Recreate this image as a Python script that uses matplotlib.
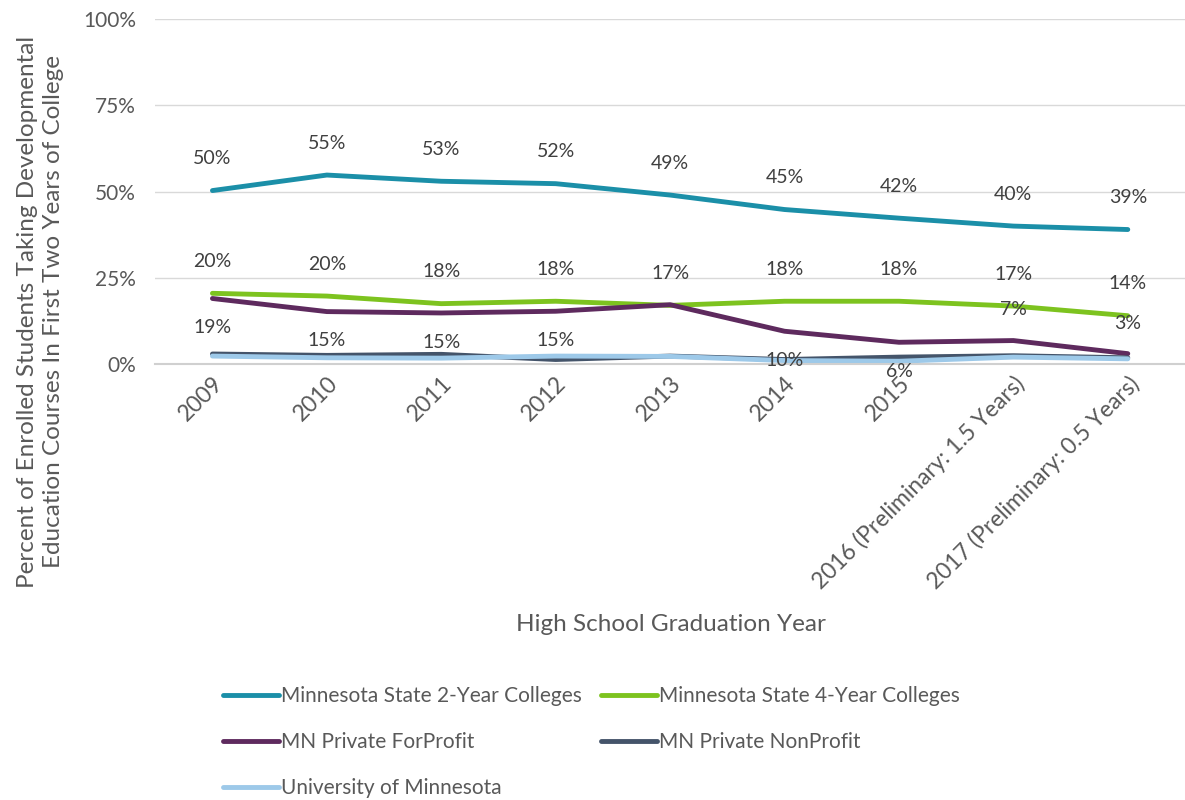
import matplotlib.pyplot as plt

plt.rcParams['font.family'] = ['Lato', 'DejaVu Sans']

years = ["2009", "2010", "2011", "2012", "2013", "2014", "2015",
         "2016 (Preliminary: 1.5 Years)", "2017 (Preliminary: 0.5 Years)"]

state_2yr = [50.3, 54.8, 53.0, 52.3, 49.0, 44.8, 42.3, 40.0, 39.0]
state_4yr = [20.5, 19.7, 17.5, 18.2, 17.0, 18.2, 18.2, 16.8, 14.0]
for_profit = [19.0, 15.2, 14.8, 15.3, 17.2, 9.5, 6.3, 6.8, 3.0]
non_profit = [2.9, 2.5, 2.8, 1.3, 2.3, 1.3, 2.0, 2.4, 1.8]
umn = [2.3, 1.8, 1.7, 2.3, 2.2, 1.0, 0.8, 2.0, 1.5]

label_2yr = ["50%", "55%", "53%", "52%", "49%", "45%", "42%", "40%", "39%"]
label_4yr = ["20%", "20%", "18%", "18%", "17%", "18%", "18%", "17%", "14%"]
label_fp = ["19%", "15%", "15%", "15%", "", "10%", "6%", "7%", "3%"]

text_col = "#595959"
x = list(range(len(years)))

fig = plt.figure(figsize=(11.85, 8), dpi=100)
ax = fig.add_axes([0.131, 0.545, 0.869, 0.431])

ax.plot(x, state_2yr, color="#1B8FA8", lw=3.5, label="Minnesota State 2-Year Colleges", solid_capstyle="round")
ax.plot(x, state_4yr, color="#7DC31F", lw=3.5, label="Minnesota State 4-Year Colleges", solid_capstyle="round")
ax.plot(x, for_profit, color="#5E2A5E", lw=3.5, label="MN Private ForProfit", solid_capstyle="round")
ax.plot(x, non_profit, color="#44546A", lw=3.5, label="MN Private NonProfit", solid_capstyle="round")
ax.plot(x, umn, color="#9DC9E9", lw=3.5, label="University of Minnesota", solid_capstyle="round")

for i in x:
    ax.annotate(label_2yr[i], (i, state_2yr[i]), xytext=(0, 23), textcoords="offset points",
                ha="center", va="center", fontsize=14, color="#404040")
    ax.annotate(label_4yr[i], (i, state_4yr[i]), xytext=(0, 23), textcoords="offset points",
                ha="center", va="center", fontsize=14, color="#404040")
    # ForProfit labels sit below except the last two
    dy = 22 if i >= 7 else -21
    if label_fp[i]:
        ax.annotate(label_fp[i], (i, for_profit[i]), xytext=(0, dy), textcoords="offset points",
                    ha="center", va="center", fontsize=14, color="#404040")

ax.set_xlim(-0.5, len(years) - 0.5)
ax.set_ylim(0, 100)
ax.set_yticks([0, 25, 50, 75, 100])
ax.set_yticklabels(["0%", "25%", "50%", "75%", "100%"])
ax.set_xticks(x)
ax.set_xticklabels(years, rotation=45, ha="right", rotation_mode="anchor")
ax.tick_params(axis="both", length=0, labelsize=15, colors=text_col)
ax.tick_params(axis="x", labelsize=16.5, pad=6)
ax.tick_params(axis="y", pad=14)
ax.grid(axis="y", color="#D9D9D9", lw=1)
ax.set_axisbelow(True)
for s in ["top", "right", "left"]:
    ax.spines[s].set_visible(False)
ax.spines["bottom"].set_color("#D0D0D0")
ax.spines["bottom"].set_linewidth(1.5)

fig.text(0.566, 0.219, "High School Graduation Year", ha="center", va="center",
         fontsize=17.5, color=text_col)
fig.text(0.034, 0.61, "Percent of Enrolled Students Taking Developmental\nEducation Courses In First Two Years of College",
         ha="center", va="center", rotation=90, fontsize=17.5, color=text_col, linespacing=1.3)

h, l = ax.get_legend_handles_labels()
order = [0, 2, 4, 1, 3]
leg = fig.legend([h[k] for k in order], [l[k] for k in order], ncol=2,
                 loc="upper left", bbox_to_anchor=(0.172, 0.166), frameon=False,
                 fontsize=15, handlelength=2.7, handletextpad=0.1, columnspacing=0.9,
                 labelspacing=1.25, labelcolor=text_col)

fig.savefig("out.png", dpi=100)
